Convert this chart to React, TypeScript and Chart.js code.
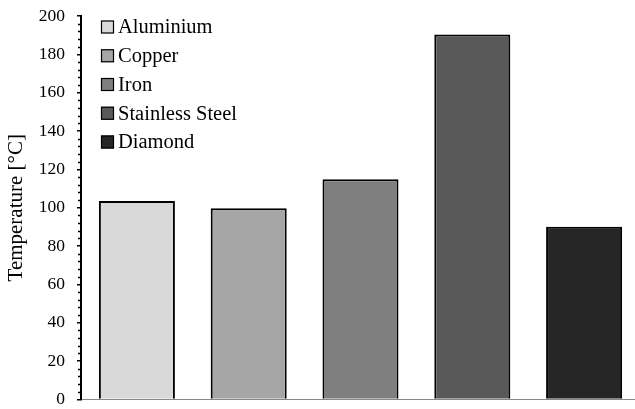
import React, { useEffect, useRef } from "react";
import { Chart, registerables } from "chart.js";

Chart.register(...registerables);

const categories = ["Aluminium", "Copper", "Iron", "Stainless Steel", "Diamond"];
const temperatures = [103.5, 99.7, 114.8, 190.3, 90.1];
const barColors = ["#d9d9d9", "#a6a6a6", "#7f7f7f", "#595959", "#262626"];
const yTitle = "Temperature [°C]";
const yMin = 0;
const yMax = 200;
const yMajorStep = 20;
const yMinorStep = 4;

const FONT = '"Liberation Serif", "Times New Roman", serif';

const minorTicksPlugin = {
  id: "minorTicks",
  afterDraw(chart: any) {
    const y = chart.scales.y;
    const area = chart.chartArea;
    const ctx = chart.ctx;
    ctx.save();
    ctx.strokeStyle = "#000";
    ctx.lineWidth = 1.5;
    for (let v = yMin; v <= yMax; v += yMinorStep) {
      if (v % yMajorStep === 0) continue;
      const py = Math.round(y.getPixelForValue(v)) + 0.5;
      ctx.beginPath();
      ctx.moveTo(area.left - 3, py);
      ctx.lineTo(area.left, py);
      ctx.stroke();
    }
    ctx.restore();
  },
};

const legendPlugin = {
  id: "insideLegend",
  afterDraw(chart: any) {
    const ctx = chart.ctx;
    const area = chart.chartArea;
    ctx.save();
    ctx.font = `20.5px ${FONT}`;
    ctx.textBaseline = "middle";
    ctx.textAlign = "left";
    categories.forEach((label, i) => {
      const cy = area.top + 11 + i * 28.75;
      const bx = area.left + 20;
      ctx.fillStyle = barColors[i];
      ctx.fillRect(bx, cy - 6.5, 13, 13);
      ctx.strokeStyle = "#000";
      ctx.lineWidth = 1.2;
      ctx.strokeRect(bx + 0.5, cy - 6, 12, 12);
      ctx.fillStyle = "#000";
      ctx.fillText(label, bx + 17, cy + 1);
    });
    ctx.restore();
  },
};

export default function App() {
  const canvasRef = useRef<HTMLCanvasElement | null>(null);

  useEffect(() => {
    if (!canvasRef.current) return;
    const chart = new Chart(canvasRef.current, {
      type: "bar",
      data: {
        labels: categories,
        datasets: [
          {
            label: "Temperature",
            data: temperatures,
            backgroundColor: barColors,
            borderColor: "#000",
            borderWidth: 2,
            barPercentage: 0.68,
            categoryPercentage: 1,
          },
        ],
      },
      options: {
        animation: false,
        responsive: true,
        maintainAspectRatio: false,
        layout: { padding: { left: 0, top: 16, right: 0, bottom: 0 } },
        plugins: {
          legend: { display: false },
          tooltip: { enabled: false },
        },
        scales: {
          x: {
            grid: { display: false },
            border: { color: "#888", width: 1 },
            ticks: { display: false },
            afterFit(scale: any) {
              scale.height = 9.5;
              scale.paddingLeft = 0;
              scale.paddingRight = 0;
            },
          },
          y: {
            min: yMin,
            max: yMax,
            grid: {
              drawOnChartArea: false,
              drawTicks: true,
              tickLength: 4,
              tickColor: "#000",
              lineWidth: 1.5,
            },
            border: { color: "#000", width: 2 },
            ticks: {
              stepSize: yMajorStep,
              padding: 12,
              color: "#000",
              font: { family: FONT, size: 17.5 },
            },
            title: {
              display: true,
              text: yTitle,
              color: "#000",
              font: { family: FONT, size: 21 },
              padding: { top: 4, bottom: 0 },
            },
            afterFit(scale: any) {
              scale.width = 81;
              scale.paddingTop = 0;
              scale.paddingBottom = 0;
            },
          },
        },
      },
      plugins: [minorTicksPlugin, legendPlugin],
    });
    return () => chart.destroy();
  }, []);

  return (
    <div style={{ position: "fixed", left: 0, top: 0, width: 640, height: 409 }}>
      <canvas ref={canvasRef} />
    </div>
  );
}
